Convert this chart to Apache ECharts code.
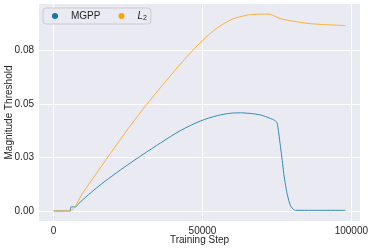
<!DOCTYPE html>
<html><head><meta charset="utf-8">
<script src="https://cdn.jsdelivr.net/npm/echarts@6/dist/echarts.min.js"></script>
<style>html,body{margin:0;padding:0;background:#fff}#c{width:374px;height:249px}</style>
</head><body><div id="c"></div>
<script>
const mgppSteps = [0, 5600, 5800, 7400, 8000, 10000, 13500, 17000, 20000, 24700, 30000, 35900, 42600, 49330, 55000, 59400, 62750, 66000, 69500, 72800, 74200, 75000, 75600, 76200, 76800, 77300, 77900, 78400, 79000, 79500, 80200, 81200, 90000, 98000];
const mgppValues = [0, 0, 0.0019, 0.0019, 0.0028, 0.0055, 0.0097, 0.0136, 0.0167, 0.0214, 0.0264, 0.0318, 0.0376, 0.0421, 0.0446, 0.0457, 0.0459, 0.0456, 0.0449, 0.0433, 0.0424, 0.0414, 0.0365, 0.0300, 0.0235, 0.0175, 0.0120, 0.0082, 0.0048, 0.0027, 0.0012, 0.0003, 0.0003, 0.0003];
const l2Steps = [0, 5500, 10000, 15000, 20000, 25000, 30000, 35000, 40000, 45000, 50000, 55000, 60000, 65000, 68000, 72250, 74000, 75500, 76500, 78000, 81000, 85000, 90000, 95000, 98000];
const l2Values = [0, 0, 0.0089, 0.0188, 0.0287, 0.0384, 0.0476, 0.0562, 0.0645, 0.0725, 0.0797, 0.0857, 0.0897, 0.0916, 0.0920, 0.0921, 0.0913, 0.0903, 0.0898, 0.0894, 0.0886, 0.0878, 0.0872, 0.0869, 0.0867];
const xTickValues = [0, 50000, 100000];
const yTickValues = [0, 0.025, 0.05, 0.075];
const yTickLabels = ["0.00", "0.03", "0.05", "0.08"];

const pair = (xs, ys) => xs.map((x, i) => [x, ys[i]]);
const font = "'Liberation Sans', Arial, sans-serif";
const txt = '#262626';

const chart = echarts.init(document.getElementById('c'), null, {renderer: 'canvas'});
chart.setOption({
  animation: false,
  backgroundColor: '#ffffff',
  grid: {left: 39, right: 14, top: 4, bottom: 28, show: true, backgroundColor: '#EAEAF2', borderWidth: 0, containLabel: false, outerBoundsMode: 'none'},
  legend: {
    left: 43, top: 8,
    padding: [2, 4, 2, 9],
    itemWidth: 6, itemHeight: 6, itemGap: 18,
    icon: 'circle',
    backgroundColor: '#EAEAF2', borderColor: '#cccccc', borderWidth: 1, borderRadius: 3,
    textStyle: {fontFamily: font, fontSize: 10, color: txt, lineHeight: 12, padding: [0, 0, 0, 8],
      rich: {i: {fontStyle: 'italic', fontSize: 10, fontFamily: font, color: txt}, s: {fontSize: 7, fontFamily: font, color: txt, verticalAlign: 'bottom', padding: [4, 0, 0, 0]}}},
    formatter: n => n === 'L2' ? '{i|L}{s|2}' : n,
    data: ['MGPP', 'L2']
  },
  xAxis: {
    type: 'value', min: -4900, max: 102900,
    name: 'Training Step', nameLocation: 'middle', nameGap: 14, nameMoveOverlap: false,
    nameTextStyle: {fontFamily: font, fontSize: 10, color: txt},
    axisLine: {show: false}, axisTick: {show: false, customValues: xTickValues},
    axisLabel: {customValues: xTickValues, formatter: v => String(v), fontFamily: font, fontSize: 10, color: txt, margin: 5},
    splitLine: {show: true, lineStyle: {color: '#ffffff', width: 1}}
  },
  yAxis: {
    type: 'value', min: -0.0047, max: 0.0968,
    name: 'Magnitude Threshold', nameLocation: 'middle', nameGap: 25, nameMoveOverlap: false,
    nameTextStyle: {fontFamily: font, fontSize: 10, color: txt},
    axisLine: {show: false}, axisTick: {show: false, customValues: yTickValues},
    axisLabel: {customValues: yTickValues, formatter: v => {
      const i = yTickValues.findIndex(t => Math.abs(t - v) < 1e-9); return i >= 0 ? yTickLabels[i] : '';
    }, fontFamily: font, fontSize: 10, color: txt, margin: 5},
    splitLine: {show: true, lineStyle: {color: '#ffffff', width: 1}}
  },
  series: [
    {name: 'MGPP', type: 'line', data: pair(mgppSteps, mgppValues), showSymbol: false, symbol: 'circle',
     smooth: 0.25,
     itemStyle: {color: '#1276ad'}, lineStyle: {color: '#2f8dbb', width: 1}},
    {name: 'L2', type: 'line', data: pair(l2Steps, l2Values), showSymbol: false, symbol: 'circle',
     smooth: 0.25,
     itemStyle: {color: '#ffa500'}, lineStyle: {color: '#fab23a', width: 1}}
  ]
});
</script></body></html>
